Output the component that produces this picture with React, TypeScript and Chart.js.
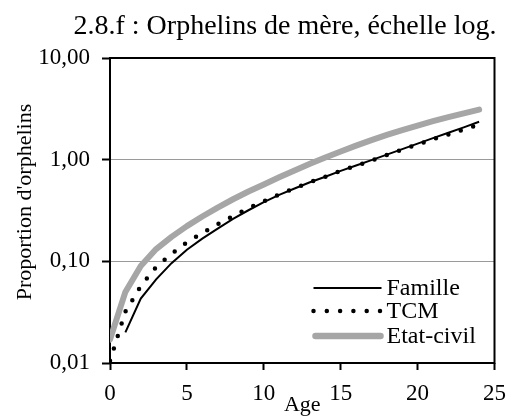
import React, { useEffect, useRef } from 'react';
import { Chart, registerables } from 'chart.js';

Chart.register(...registerables);

// ---- Data ----
const ages = [0, 1, 2, 3, 4, 5, 6, 7, 8, 9, 10, 11, 12, 13, 14, 15, 16, 17, 18, 19, 20, 21, 22, 23, 24];
const famille = [null, 0.020, 0.043, 0.0665, 0.096, 0.130, 0.167, 0.210, 0.262, 0.318, 0.382, 0.450, 0.520, 0.600, 0.680, 0.775, 0.875, 0.990, 1.12, 1.27, 1.44, 1.63, 1.84, 2.08, 2.36];
const tcm = [0.0105, 0.032, 0.057, 0.088, 0.118, 0.154, 0.190, 0.232, 0.279, 0.333, 0.390, 0.455, 0.522, 0.600, 0.680, 0.775, 0.870, 0.980, 1.11, 1.26, 1.41, 1.59, 1.77, 1.98, 2.22];
const etatCivil = [0.017, 0.050, 0.090, 0.132, 0.174, 0.222, 0.276, 0.338, 0.408, 0.486, 0.571, 0.671, 0.783, 0.910, 1.05, 1.205, 1.374, 1.556, 1.75, 1.954, 2.168, 2.388, 2.618, 2.858, 3.105];
const seriesLabels = ['Famille', 'TCM', 'Etat-civil'];
const yTickValues = [0.01, 0.1, 1, 10];
const xMin = 0;
const xMax = 25;
const xStep = 5;
const titleText = '2.8.f : Orphelins de mère, échelle log.';
const yTitle = "Proportion d'orphelins";
const xTitle = 'Age';

const FONT = '"Liberation Serif", "Times New Roman", serif';
const GRAY = '#a6a6a6';

const toPoints = (arr: (number | null)[]) => ages.map((a, i) => ({ x: a, y: arr[i] }));

const decorPlugin = {
  id: 'decor',
  beforeDatasetsDraw(chart: any) {
    const { ctx, chartArea: ca } = chart;
    ctx.save();
    ctx.strokeStyle = '#000';
    ctx.lineWidth = 2;
    ctx.strokeRect(ca.left, ca.top, ca.right - ca.left, ca.bottom - ca.top);
    ctx.restore();
  },
  afterDraw(chart: any) {
    const { ctx, chartArea: ca } = chart;
    ctx.save();
    ctx.fillStyle = '#000';
    // Title
    ctx.font = `28px ${FONT}`;
    ctx.textAlign = 'center';
    ctx.textBaseline = 'alphabetic';
    ctx.fillText(titleText, 285, 34);
    // X title
    ctx.font = `22px ${FONT}`;
    ctx.fillText(xTitle, (ca.left + ca.right) / 2, 411);
    // Y title
    ctx.save();
    ctx.translate(31, 202);
    ctx.rotate(-Math.PI / 2);
    ctx.fillText(yTitle, 0, 0);
    ctx.restore();

    // Legend
    const x0 = ca.right - 181;
    const x1 = ca.right - 113;
    const tx = ca.right - 108;
    const rows = [ca.bottom - 75, ca.bottom - 52, ca.bottom - 27];
    ctx.font = `24px ${FONT}`;
    ctx.textAlign = 'left';
    ctx.textBaseline = 'middle';
    // Famille
    ctx.strokeStyle = '#000';
    ctx.lineWidth = 2;
    ctx.beginPath();
    ctx.moveTo(x0, rows[0]);
    ctx.lineTo(x1, rows[0]);
    ctx.stroke();
    // TCM
    ctx.lineWidth = 4.5;
    ctx.lineCap = 'round';
    ctx.setLineDash([0, 13.3]);
    ctx.beginPath();
    ctx.moveTo(x0, rows[1]);
    ctx.lineTo(x1, rows[1]);
    ctx.stroke();
    ctx.setLineDash([]);
    // Etat-civil
    ctx.strokeStyle = GRAY;
    ctx.lineWidth = 6.5;
    ctx.beginPath();
    ctx.moveTo(x0 + 2, rows[2]);
    ctx.lineTo(x1 - 1, rows[2]);
    ctx.stroke();
    ctx.fillStyle = '#000';
    seriesLabels.forEach((l, i) => ctx.fillText(l, tx, rows[i] + 1));
    ctx.restore();
  },
};

export default function App() {
  const ref = useRef<HTMLCanvasElement | null>(null);
  useEffect(() => {
    if (!ref.current) return;
    const chart = new Chart(ref.current, {
      type: 'line',
      data: {
        datasets: [
          {
            label: seriesLabels[0],
            data: toPoints(famille),
            borderColor: '#000',
            borderWidth: 2,
            pointRadius: 0,
            tension: 0,
            fill: false,
          },
          {
            label: seriesLabels[1],
            data: toPoints(tcm),
            borderColor: '#000',
            borderWidth: 4.5,
            borderDash: [0, 13],
            borderCapStyle: 'round',
            pointRadius: 0,
            tension: 0,
            fill: false,
          },
          {
            label: seriesLabels[2],
            data: toPoints(etatCivil),
            borderColor: GRAY,
            borderWidth: 6,
            borderCapStyle: 'round',
            borderJoinStyle: 'round',
            pointRadius: 0,
            tension: 0,
            fill: false,
          },
        ],
      } as any,
      options: {
        responsive: false,
        animation: false,
        devicePixelRatio: 1,
        layout: { padding: { top: 58, right: 13, left: 0, bottom: 0 } },
        plugins: {
          legend: { display: false },
          title: { display: false },
          tooltip: { enabled: false },
        },
        scales: {
          x: {
            type: 'linear',
            min: xMin,
            max: xMax,
            afterFit: (s: any) => { s.height = 55; },
            ticks: {
              stepSize: xStep,
              color: '#000',
              font: { family: FONT, size: 23 },
              padding: 10,
              maxRotation: 0,
            },
            grid: {
              drawOnChartArea: false,
              drawTicks: true,
              tickLength: 7,
              tickColor: '#000',
              tickWidth: 2,
            },
            border: { display: false },
          },
          y: {
            type: 'logarithmic',
            min: 0.01,
            max: 10,
            afterFit: (s: any) => { s.width = 110; },
            afterBuildTicks: (s: any) => { s.ticks = yTickValues.map((v) => ({ value: v })); },
            ticks: {
              color: '#000',
              font: { family: FONT, size: 23 },
              padding: 12,
              callback: (v: any) => Number(v).toFixed(2).replace('.', ','),
            },
            grid: {
              drawTicks: true,
              tickLength: 8,
              tickColor: '#000',
              tickWidth: 2,
              lineWidth: 1,
              color: (c: any) => (c.tick && (c.tick.value === 0.1 || c.tick.value === 1) ? '#9a9a9a' : 'rgba(0,0,0,0)'),
            },
            border: { display: false },
          },
        },
      } as any,
      plugins: [decorPlugin],
    });
    return () => chart.destroy();
  }, []);
  return (
    <div style={{ position: 'absolute', left: 0, top: 0, width: 516, height: 418, background: '#fff' }}>
      <canvas ref={ref} width={516} height={418} />
    </div>
  );
}
